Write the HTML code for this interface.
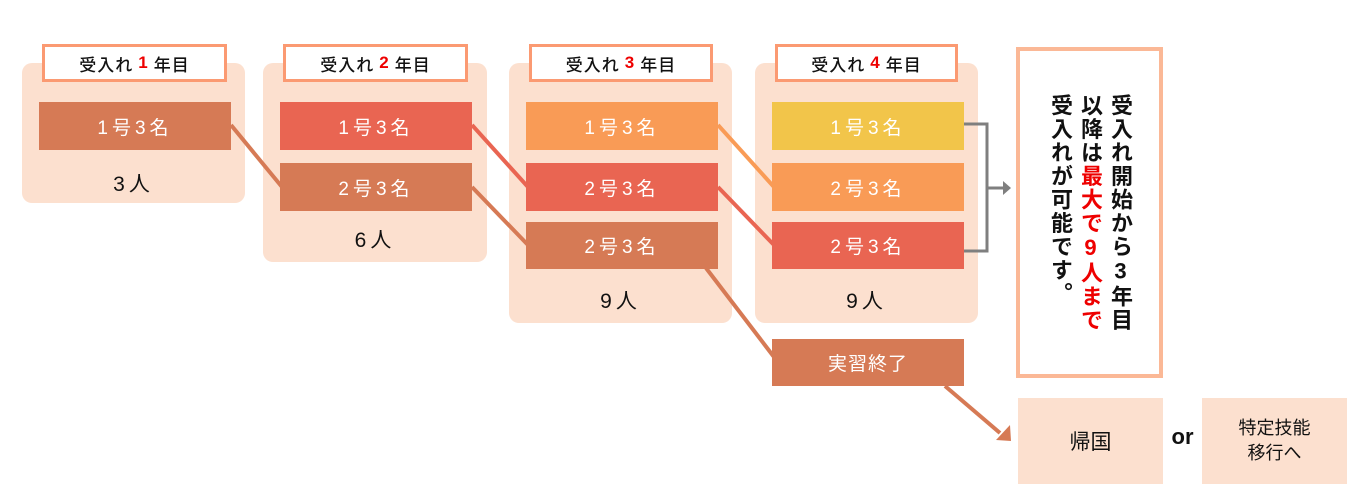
<!DOCTYPE html>
<html><head><meta charset="utf-8"><style>
body{margin:0;width:1356px;height:484px;background:#fff;position:relative;overflow:hidden;font-family:"Liberation Sans","Noto Sans CJK JP",sans-serif;}
.a{position:absolute;box-sizing:border-box;}
.panel{background:#fce0cf;border-radius:10px;}
.lab{background:#fff;border:3px solid #fb9a72;font-size:17px;font-weight:500;display:flex;align-items:center;justify-content:center;color:#111;letter-spacing:1px;}
.lab b{color:#e00;font-weight:bold;margin:0 5px;}
.bar{color:#fff;font-size:19px;display:flex;align-items:center;justify-content:center;letter-spacing:4px;}
.n{font-size:21px;color:#111;text-align:center;letter-spacing:4px;}
.br{background:#d67a55}.rd{background:#e96552}.or{background:#f99b56}.ye{background:#f2c54a}
.v{writing-mode:vertical-rl;text-orientation:upright;font-size:22px;font-weight:bold;letter-spacing:1.5px;color:#111;position:absolute;top:94px;line-height:24px;}
</style></head><body>
<div class="a panel" style="left:22px;top:63px;width:223px;height:140px"></div>
<div class="a panel" style="left:263px;top:63px;width:224px;height:199px"></div>
<div class="a panel" style="left:509px;top:63px;width:223px;height:260px"></div>
<div class="a panel" style="left:755px;top:63px;width:223px;height:260px"></div>

<div class="a lab" style="left:42px;top:44px;width:185px;height:38px">受入れ<b>1</b>年目</div>
<div class="a lab" style="left:283px;top:44px;width:185px;height:38px">受入れ<b>2</b>年目</div>
<div class="a lab" style="left:529px;top:44px;width:184px;height:38px">受入れ<b>3</b>年目</div>
<div class="a lab" style="left:775px;top:44px;width:183px;height:38px">受入れ<b>4</b>年目</div>

<svg class="a" style="left:0;top:0" width="1356" height="484">
<g stroke-width="4" fill="none">
<line x1="231" y1="125" x2="282" y2="187" stroke="#d67a55"/>
<line x1="472" y1="125" x2="528" y2="187" stroke="#e96552"/>
<line x1="472" y1="187" x2="528" y2="245" stroke="#d67a55"/>
<line x1="718" y1="125" x2="774" y2="187" stroke="#f99b56"/>
<line x1="718" y1="187" x2="774" y2="245" stroke="#e96552"/>
<line x1="706" y1="268" x2="774" y2="357" stroke="#d67a55"/>
<line x1="945" y1="386" x2="1000" y2="433" stroke="#d67a55"/>
<polyline points="964,124 987,124 987,251 964,251" stroke="#7f7f7f" stroke-width="3"/>
<line x1="987" y1="188" x2="1004" y2="188" stroke="#7f7f7f" stroke-width="3"/>
</g>
<polygon points="1003,181 1011,188 1003,195" fill="#7f7f7f"/>
<polygon points="1011,441 996,440 1010,425" fill="#d67a55"/>
</svg>

<div class="a bar br" style="left:39px;top:102px;width:192px;height:48px">1号3名</div>
<div class="a n" style="left:22px;top:168px;width:223px">3人</div>

<div class="a bar rd" style="left:280px;top:102px;width:192px;height:48px">1号3名</div>
<div class="a bar br" style="left:280px;top:163px;width:192px;height:48px">2号3名</div>
<div class="a n" style="left:263px;top:224px;width:224px">6人</div>

<div class="a bar or" style="left:526px;top:102px;width:192px;height:48px">1号3名</div>
<div class="a bar rd" style="left:526px;top:163px;width:192px;height:48px">2号3名</div>
<div class="a bar br" style="left:526px;top:222px;width:192px;height:47px">2号3名</div>
<div class="a n" style="left:509px;top:285px;width:223px">9人</div>

<div class="a bar ye" style="left:772px;top:102px;width:192px;height:48px">1号3名</div>
<div class="a bar or" style="left:772px;top:163px;width:192px;height:48px">2号3名</div>
<div class="a bar rd" style="left:772px;top:222px;width:192px;height:47px">2号3名</div>
<div class="a n" style="left:755px;top:285px;width:223px">9人</div>

<div class="a bar br" style="left:772px;top:339px;width:192px;height:47px;letter-spacing:1px">実習終了</div>

<div class="a" style="left:1016px;top:47px;width:147px;height:331px;border:4px solid #fbb896;background:#fff"></div>
<div class="v" style="left:1108px">受入れ開始から3年目</div>
<div class="v" style="left:1078px">以降は<span style="color:#e00">最大で9人まで</span></div>
<div class="v" style="left:1048px">受入れが可能です。</div>

<div class="a" style="left:1018px;top:398px;width:145px;height:86px;background:#fce0cf;display:flex;align-items:center;justify-content:center;font-size:21px;color:#111">帰国</div>
<div class="a" style="left:1163px;top:424px;width:39px;text-align:center;font-size:22px;font-weight:bold;color:#111">or</div>
<div class="a" style="left:1202px;top:398px;width:145px;height:86px;background:#fce0cf;display:flex;align-items:center;justify-content:center;text-align:center;font-size:18px;line-height:25px;color:#111">特定技能<br>移行へ</div>
</body></html>
